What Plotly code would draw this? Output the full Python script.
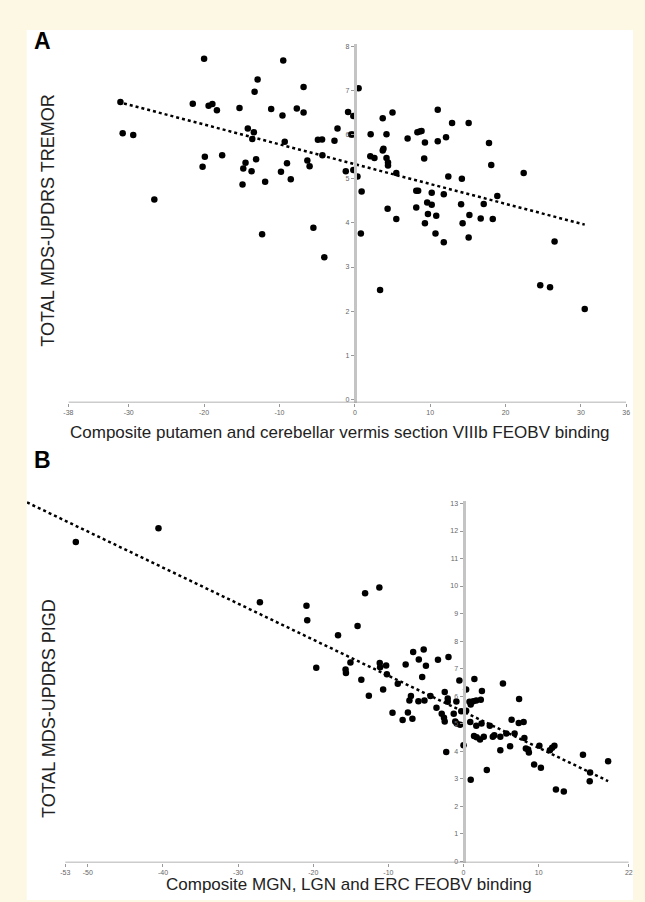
import plotly.graph_objects as go

# ---------------- Panel A data ----------------
a_x = [-31.1, -30.8, -29.4, -26.6, -20.0, -21.5, -19.4, -18.9, -18.3, -19.9, -20.2, -17.6,
       -15.3, -14.2, -13.4, -13.6, -12.9, -13.3, -14.5, -14.8, -13.1, -13.7, -14.9, -11.9,
       -12.3, -11.1, -9.5, -9.6, -9.3, -9.0, -9.8, -8.5, -7.7, -6.8, -6.8, -6.3, -6.0, -5.5,
       -4.05, -4.9, -4.35, -4.3, -2.7, -2.3,
       -0.9, -0.2, -0.5, -0.3, -1.2, -0.2, 0.35, 0.9, 0.8, 0.5, 2.1, 2.05, 2.6, 3.7, 4.2, 5.0,
       3.7, 3.8, 4.2, 4.4, 4.4, 5.5, 4.35, 5.5, 7.0, 8.3, 8.6, 8.85, 9.3, 9.2, 11.0, 11.0,
       12.1, 12.9, 15.1, 8.15, 8.4, 10.2, 11.8, 12.4, 14.2, 8.15, 9.6, 10.2, 9.7, 10.8, 9.3,
       10.7, 11.8, 14.1, 15.2, 14.3, 15.1, 16.7, 17.1, 17.8,
       18.1, 18.9, 18.3, 22.4, 26.5, 24.6, 25.9, 30.5, 3.35]
a_y = [6.74, 6.03, 5.99, 4.53, 7.72, 6.70, 6.65, 6.69, 6.55, 5.50, 5.27, 5.53,
       6.60, 6.14, 6.05, 5.90, 7.25, 6.97, 5.36, 5.23, 5.44, 5.17, 4.87, 4.93,
       3.74, 6.58, 7.68, 6.43, 5.84, 5.35, 5.16, 4.99, 6.59, 6.50, 7.08, 5.41, 5.28, 3.89,
       3.22, 5.88, 5.89, 5.53, 5.86, 6.14,
       6.51, 6.42, 6.00, 6.00, 5.17, 5.20, 5.05, 4.71, 3.76, 7.05, 6.01, 5.51, 5.47, 6.37, 6.01, 6.50,
       5.64, 5.68, 5.47, 5.37, 5.30, 5.13, 4.32, 4.09, 5.91, 6.05, 6.07, 6.08, 5.82, 5.46, 6.56, 5.85,
       5.94, 6.26, 6.26, 4.73, 4.73, 4.68, 4.65, 5.05, 5.00, 4.35, 4.46, 4.41, 4.20, 4.16, 3.99,
       3.76, 3.56, 4.42, 4.18, 3.99, 3.67, 4.10, 4.43, 5.81,
       5.31, 4.61, 4.09, 5.13, 3.58, 2.59, 2.54, 2.05, 2.48]
a_trend_x = [-31.4, 30.5]
a_trend_y = [6.74, 3.96]
a_xticks = [-38, -30, -20, -10, 0, 10, 20, 30, 36]
a_yticks = [0, 1, 2, 3, 4, 5, 6, 7, 8]
a_xtitle = "Composite putamen and cerebellar vermis section VIIIb FEOBV binding"
a_ytitle = "TOTAL MDS-UPDRS TREMOR"

# ---------------- Panel B data ----------------
b_x = [-51.6, -40.6, -27.1, -20.9, -20.8, -16.7, -19.6,
       -13.1, -11.2, -14.1, -15.05, -15.7, -15.65, -13.6, -12.6, -11.15, -11.1, -10.3, -10.2,
       -10.7, -9.45,
       13.35, 15.9, 16.85, 16.8, 19.25,
       -8.75, -7.7, -6.7, -5.95, -5.3, -5.0, -5.5, -3.4, -2.0, -7.2, -7.0, -6.0, -5.2, -4.4,
       -7.4, -8.1, -6.8, -3.6, -2.5, -2.1, -2.1, -0.95, -0.55, -2.9, -2.6, -2.5, -1.3, -1.1,
       -0.9, -0.45, -0.3, -2.3, 0.0, 0.35, 1.45, 0.8, 0.96, 0.35, 1.3, 1.7, 2.3, 2.45, 0.9,
       1.7, 2.4, 1.4, 1.75, 2.2, 2.7, 3.5, 0.96, 3.1, 3.9, 4.1, 4.9, 4.9, 5.25, 5.7, 6.2,
       6.4, 6.8, 7.4, 7.35, 8.0, 8.1, 8.3, 8.6, 8.7, 9.4, 10.1, 10.3, 11.5, 11.8, 12.1, 12.3]
b_y = [11.60, 12.10, 9.41, 9.28, 8.76, 8.21, 7.03,
       9.74, 9.95, 8.55, 7.22, 6.97, 6.84, 6.59, 6.01, 7.20, 7.05, 7.11, 6.79,
       6.24, 5.39,
       2.53, 3.87, 3.22, 2.90, 3.63,
       6.45, 7.15, 7.60, 7.33, 7.69, 7.10, 6.69, 7.32, 7.42, 5.84, 6.00, 5.81, 5.84, 6.00,
       5.40, 5.13, 5.18, 5.58, 6.15, 5.91, 5.79, 5.80, 6.57, 5.36, 5.21, 5.08, 5.36, 5.08,
       5.00, 4.96, 5.45, 3.97, 4.21, 6.24, 6.62, 5.79, 5.69, 5.47, 5.81, 5.84, 5.87, 6.18, 5.06,
       4.92, 5.00, 4.55, 4.50, 4.42, 4.52, 4.92, 2.96, 3.31, 4.52, 4.58, 4.52, 4.03, 6.46, 4.64, 4.18,
       5.14, 4.64, 5.89, 5.02, 5.06, 4.48, 4.09, 4.06, 3.95, 3.51, 4.19, 3.39, 4.03, 4.12, 4.19, 2.60]
b_trend_x = [-58.1, 19.25]
b_trend_y = [13.04, 2.91]
b_xticks = [-53, -50, -40, -30, -20, -10, 0, 10, 22]
b_yticks = list(range(0, 14))
b_xtitle = "Composite MGN, LGN and ERC FEOBV binding"
b_ytitle = "TOTAL MDS-UPDRS PIGD"

W, H = 645, 902
FONT = "Liberation Sans, Arial, sans-serif"
CREAM = "#fdf8e3"

# layout geometry (paper fractions)
a_xrange = [a_xticks[0], a_xticks[-1]]
a_yrange = [-0.07, 8.05]
a_xdom = [0.0997, 0.9767]
a_ydom = [0.5533, 0.9521]

b_xrange = [b_trend_x[0], b_xticks[-1]]
b_yrange = [-0.05, 13.1]
b_xdom = [0.0346, 0.9808]
b_ydom = [0.0417, 0.4441]


def zero_pos(rng, dom):
    return dom[0] + (0 - rng[0]) / (rng[1] - rng[0]) * (dom[1] - dom[0])


fig = go.Figure()

fig.add_trace(go.Scatter(x=a_x, y=a_y, mode="markers", xaxis="x", yaxis="y",
                         marker=dict(color="black", size=6.5), showlegend=False))
fig.add_trace(go.Scatter(x=a_trend_x, y=a_trend_y, mode="lines", xaxis="x", yaxis="y",
                         line=dict(color="black", width=2.5, dash="dot"), showlegend=False))
fig.add_trace(go.Scatter(x=b_x, y=b_y, mode="markers", xaxis="x2", yaxis="y2",
                         marker=dict(color="black", size=6.5), showlegend=False))
fig.add_trace(go.Scatter(x=b_trend_x, y=b_trend_y, mode="lines", xaxis="x2", yaxis="y2",
                         line=dict(color="black", width=2.5, dash="dot"), showlegend=False))

tickfont = dict(family=FONT, size=7, color="#666")

xcommon = dict(showgrid=False, zeroline=False, showline=False, ticks="outside", ticklen=3,
               tickcolor="#999", tickwidth=1, tickfont=tickfont, fixedrange=True)
ycommon = dict(showgrid=False, zeroline=False, showline=True, linecolor="#c4c4c4", linewidth=3,
               ticks="outside", ticklen=3, tickcolor="#999", tickwidth=1, tickfont=tickfont,
               anchor="free", fixedrange=True)

fig.update_layout(
    width=W, height=H,
    margin=dict(l=0, r=0, t=0, b=0),
    paper_bgcolor=CREAM,
    plot_bgcolor="rgba(0,0,0,0)",
    xaxis=dict(xcommon, range=a_xrange, domain=a_xdom, anchor="y",
               tickvals=a_xticks, ticktext=[str(v) for v in a_xticks]),
    yaxis=dict(ycommon, range=a_yrange, domain=a_ydom,
               position=zero_pos(a_xrange, a_xdom),
               tickvals=a_yticks, ticktext=[str(v) for v in a_yticks]),
    xaxis2=dict(xcommon, range=b_xrange, domain=b_xdom, anchor="y2",
                tickvals=b_xticks, ticktext=[str(v) for v in b_xticks]),
    yaxis2=dict(ycommon, range=b_yrange, domain=b_ydom,
                position=zero_pos(b_xrange, b_xdom),
                tickvals=b_yticks, ticktext=[str(v) for v in b_yticks]),
)

# white inner panel
fig.add_shape(type="rect", xref="paper", yref="paper", x0=22 / W, x1=637 / W, y0=0, y1=1 - 29 / H,
              fillcolor="white", line=dict(width=0), layer="below")

# x-axis lines (horizontal axis from first to last tick)
fig.add_shape(type="line", xref="x", yref="y", x0=a_xticks[0], x1=a_xticks[-1],
              y0=a_yrange[0], y1=a_yrange[0], line=dict(color="#999", width=1.5))
fig.add_shape(type="line", xref="x2", yref="y2", x0=b_xticks[0], x1=b_xticks[-1],
              y0=b_yrange[0], y1=b_yrange[0], line=dict(color="#999", width=1.5))

xtitlefont = dict(family=FONT, size=17, color="#222")
ytitlefont = dict(family=FONT, size=18, color="#222")
ann = [
    dict(text="<b>A</b>", x=27 / W, y=1 - 40 / H, xanchor="left", yanchor="middle",
         font=dict(family=FONT, size=23, color="black")),
    dict(text="<b>B</b>", x=27 / W, y=1 - 461 / H, xanchor="left", yanchor="middle",
         font=dict(family=FONT, size=23, color="black")),
    dict(text=a_xtitle, x=340 / W, y=1 - 433 / H, xanchor="center", yanchor="middle", font=xtitlefont),
    dict(text=b_xtitle, x=349 / W, y=1 - 886 / H, xanchor="center", yanchor="middle", font=xtitlefont),
    dict(text=a_ytitle, x=44 / W, y=1 - 220 / H, xanchor="center", yanchor="middle",
         textangle=-90, font=ytitlefont),
    dict(text=b_ytitle, x=44 / W, y=1 - 710 / H, xanchor="center", yanchor="middle",
         textangle=-90, font=ytitlefont),
]
for a in ann:
    fig.add_annotation(xref="paper", yref="paper", showarrow=False, **a)

fig.write_html("out.html",
               config={"displayModeBar": False},
               post_script="document.body.style.margin='0px';"
                           "document.body.style.background='" + CREAM + "';"
                           "document.body.style.overflow='hidden';")
